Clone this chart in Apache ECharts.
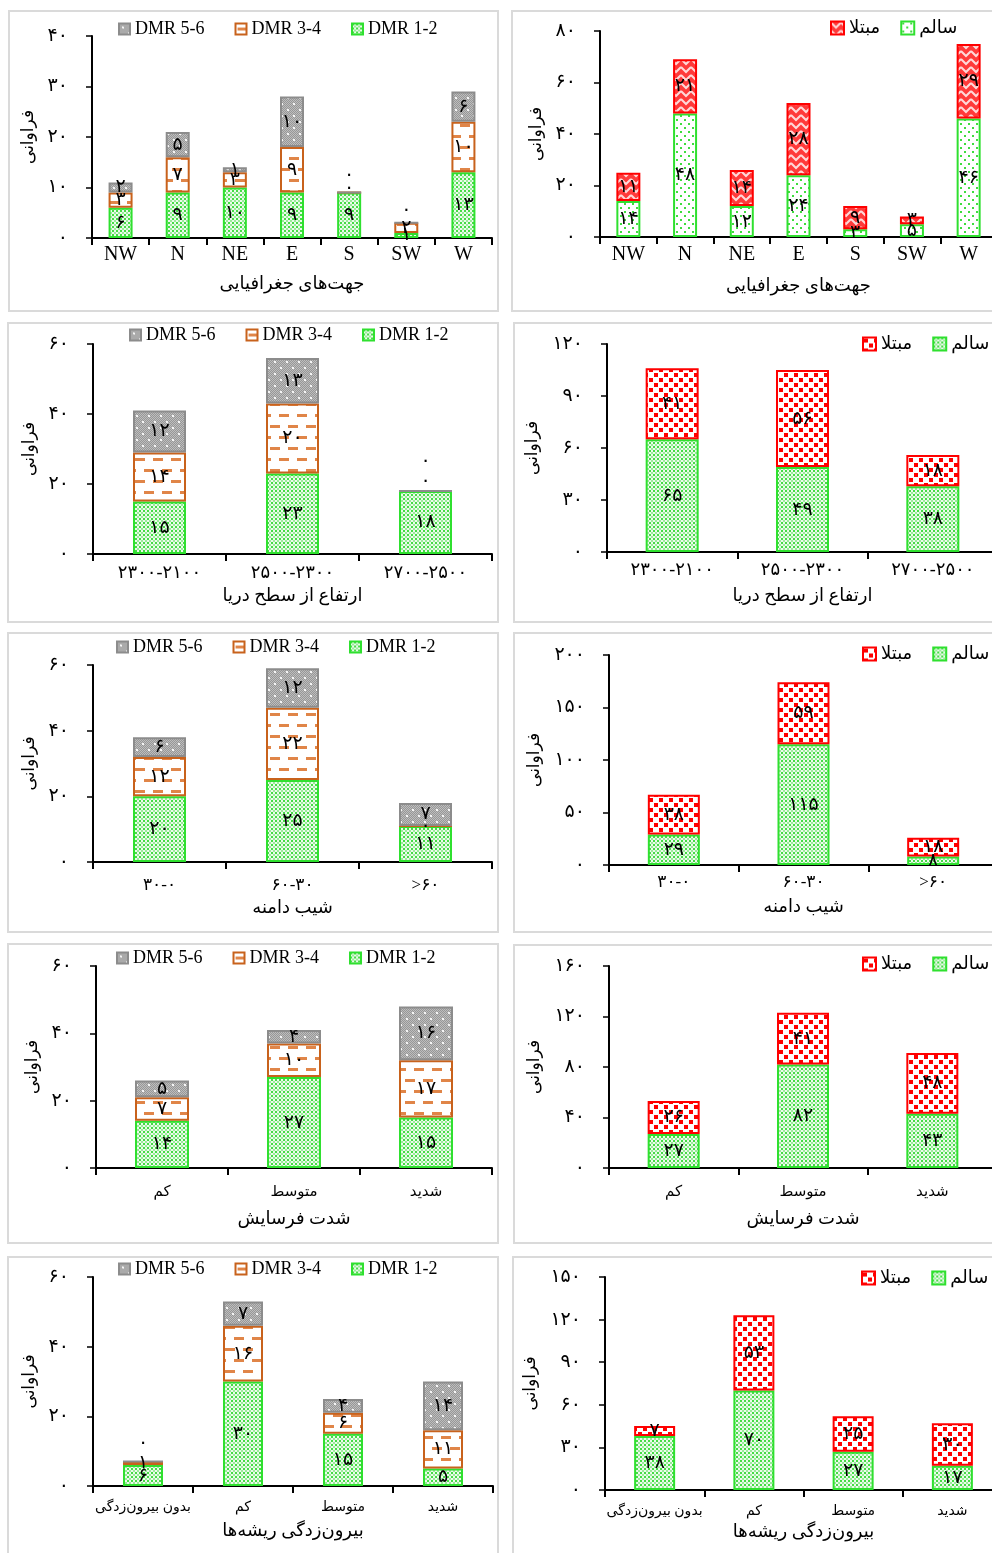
<!DOCTYPE html>
<html>
<head>
<meta charset="utf-8">
<script src="https://cdn.jsdelivr.net/npm/echarts@6/dist/echarts.min.js"></script>
<style>
html,body{margin:0;padding:0;background:#fff;overflow:hidden;width:992px;height:1553px;}
.panel{position:absolute;outline:2px solid #dadada;outline-offset:-2px;}
</style>
</head>
<body>
<div id="p1" class="panel"></div><div id="p2" class="panel"></div>
<div id="p3" class="panel"></div><div id="p4" class="panel"></div>
<div id="p5" class="panel"></div><div id="p6" class="panel"></div>
<div id="p7" class="panel"></div><div id="p8" class="panel"></div>
<div id="p9" class="panel"></div><div id="p10" class="panel"></div>
<script>
// ---------------- DATA ----------------
const dirCats = ['NW','N','NE','E','S','SW','W'];
const dirDmr12 = [6,9,10,9,9,1,13];
const dirDmr34 = [3,7,3,9,0,2,10];
const dirDmr56 = [2,5,1,10,0,0,6];
const dirHealthy = [14,48,12,24,3,5,46];
const dirInfected = [11,21,14,28,9,3,29];

const altCats = ['۲۳۰۰-۲۱۰۰','۲۵۰۰-۲۳۰۰','۲۷۰۰-۲۵۰۰'];
const altDmr12 = [15,23,18];
const altDmr34 = [14,20,0];
const altDmr56 = [12,13,0];
const altHealthy = [65,49,38];
const altInfected = [41,56,18];

const slopeCats = ['۳۰-۰','۶۰-۳۰','>۶۰'];
const slopeDmr12 = [20,25,11];
const slopeDmr34 = [12,22,0];
const slopeDmr56 = [6,12,7];
const slopeHealthy = [29,115,8];
const slopeInfected = [38,59,18];

const erosionCats = ['کم','متوسط','شدید'];
const erosionDmr12 = [14,27,15];
const erosionDmr34 = [7,10,17];
const erosionDmr56 = [5,4,16];
const erosionHealthy = [27,82,43];
const erosionInfected = [26,41,48];

const rootCats = ['بدون بیرون‌زدگی','کم','متوسط','شدید'];
const rootDmr12 = [6,30,15,5];
const rootDmr34 = [1,16,6,11];
const rootDmr56 = [0,7,4,14];
const rootHealthy = [38,70,27,17];
const rootInfected = [7,53,25,30];

const ticks40 = ['۰','۱۰','۲۰','۳۰','۴۰'];
const ticks80 = ['۰','۲۰','۴۰','۶۰','۸۰'];
const ticks60 = ['۰','۲۰','۴۰','۶۰'];
const ticks120 = ['۰','۳۰','۶۰','۹۰','۱۲۰'];
const ticks200 = ['۰','۵۰','۱۰۰','۱۵۰','۲۰۰'];
const ticks160 = ['۰','۴۰','۸۰','۱۲۰','۱۶۰'];
const ticks150 = ['۰','۳۰','۶۰','۹۰','۱۲۰','۱۵۰'];

const dmrNames = ['DMR 1-2','DMR 3-4','DMR 5-6'];
const healthNames = ['سالم','مبتلا'];
const yTitle = 'فراوانی';
const xTitleDir = 'جهت‌های جغرافیایی';
const xTitleAlt = 'ارتفاع از سطح دریا';
const xTitleSlope = 'شیب دامنه';
const xTitleErosion = 'شدت فرسایش';
const xTitleRoot = 'بیرون‌زدگی ریشه‌ها';

// ---------------- STYLE ----------------
const FONT = "'Liberation Serif', 'DejaVu Sans', serif";
function toFa(n){ return String(n).replace(/\d/g, d => '۰۱۲۳۴۵۶۷۸۹'[+d]); }
function tile(w,h,draw){ const c=document.createElement('canvas'); c.width=w; c.height=h; const g=c.getContext('2d'); draw(g,w,h); return c; }
const pat = {
  green: tile(4,4,(g)=>{ g.fillStyle='#eafbea'; g.fillRect(0,0,4,4); g.fillStyle='#45dc45'; g.fillRect(0,0,2,2); g.fillStyle='#9be99b'; g.fillRect(2,2,2,2); }),
  greenSparse: tile(8,8,(g)=>{ g.fillStyle='#fff'; g.fillRect(0,0,8,8); g.fillStyle='#3edc3e'; g.fillRect(1,1,2,2); g.fillRect(5,5,2,2); }),
  orange: tile(18,22,(g)=>{ g.fillStyle='#fff'; g.fillRect(0,0,18,22); g.fillStyle='#e08548'; g.fillRect(2,4,10,3); g.fillRect(11,15,10,3); g.fillRect(-7,15,10,3); }),
  gray: tile(12,12,(g)=>{ g.fillStyle='#bdbdbd'; g.fillRect(0,0,12,12); g.fillStyle='#979797'; for(let x=0;x<12;x++)for(let y=0;y<12;y++) if((x+y)%2===0) g.fillRect(x,y,1,1); g.fillStyle='#f4f4f4'; g.fillRect(3,3,2,2); g.fillRect(9,9,2,2); }),
  redZig: tile(10,8,(g)=>{ g.fillStyle='#ff3a3a'; g.fillRect(0,0,10,8); g.strokeStyle='#ffd8d8'; g.lineWidth=2; g.beginPath(); g.moveTo(0,1); g.lineTo(5,6); g.lineTo(10,1); g.stroke(); }),
  redSq: tile(10,10,(g)=>{ g.fillStyle='#fff'; g.fillRect(0,0,10,10); g.fillStyle='#ff0000'; g.fillRect(1,1,4,4); g.fillRect(6,6,4,4); })
};
function fill(c){ return {image:c, repeat:'repeat'}; }
const dmrStyles = [
  {color: fill(pat.green), borderColor:'#2fe02f', borderWidth:2},
  {color: fill(pat.orange), borderColor:'#c8621c', borderWidth:2},
  {color: fill(pat.gray), borderColor:'#8c8c8c', borderWidth:2}
];
const healthStylesZig = [
  {color: fill(pat.greenSparse), borderColor:'#2fe02f', borderWidth:2},
  {color: fill(pat.redZig), borderColor:'#ff0000', borderWidth:2}
];
const healthStylesSq = [
  {color: fill(pat.green), borderColor:'#2fe02f', borderWidth:2},
  {color: fill(pat.redSq), borderColor:'#ff0000', borderWidth:2}
];

// ---------------- PANELS ----------------
const panels = [
  {id:'p1', box:[8,10,491,302], grid:[84,26,400,202], cats:dirCats, values:[dirDmr12,dirDmr34,dirDmr56], names:dmrNames, styles:dmrStyles,
   ticks:ticks40, max:40, step:10, xTitle:xTitleDir, barWidth:24, legend:[110,10], legendGap:30, icon:11, yGap:43, xGap:37, xMargin:7, xSize:20,
   zero:{1:{4:-5}, 2:{4:-18,5:-13}}},
  {id:'p2', box:[511,10,490,302], grid:[89,21,397,206], cats:dirCats, values:[dirHealthy,dirInfected], names:healthNames, styles:healthStylesZig,
   ticks:ticks80, max:80, step:20, xTitle:xTitleDir, barWidth:24, legend:[319,9], legendGap:20, icon:13, yGap:48, xGap:40, xMargin:8, xSize:20, zero:{}},
  {id:'p3', box:[7,322,492,301], grid:[86,22,399,210], cats:altCats, values:[altDmr12,altDmr34,altDmr56], names:dmrNames, styles:dmrStyles,
   ticks:ticks60, max:60, step:20, xTitle:xTitleAlt, barWidth:53, legend:[122,4], legendGap:30, icon:11, yGap:44, xGap:33, xMargin:10, xSize:18,
   zero:{1:{2:-10}, 2:{2:-30}}},
  {id:'p4', box:[513,322,490,301], grid:[94,22,391,208], cats:altCats, values:[altHealthy,altInfected], names:healthNames, styles:healthStylesSq,
   ticks:ticks120, max:120, step:30, xTitle:xTitleAlt, barWidth:53, legend:[349,13], legendGap:20, icon:13, yGap:55, xGap:35, xMargin:9, xSize:18, zero:{}},
  {id:'p5', box:[7,632,492,301], grid:[86,33,399,197], cats:slopeCats, values:[slopeDmr12,slopeDmr34,slopeDmr56], names:dmrNames, styles:dmrStyles,
   ticks:ticks60, max:60, step:20, xTitle:xTitleSlope, barWidth:53, legend:[109,6], legendGap:30, icon:11, yGap:46, xGap:36, xMargin:15, xSize:17, zero:{}},
  {id:'p6', box:[513,632,490,301], grid:[96,23,389,210], cats:slopeCats, values:[slopeHealthy,slopeInfected], names:healthNames, styles:healthStylesSq,
   ticks:ticks200, max:200, step:50, xTitle:xTitleSlope, barWidth:52, legend:[349,13], legendGap:20, icon:13, yGap:55, xGap:33, xMargin:9, xSize:17, zero:{}},
  {id:'p7', box:[7,943,492,301], grid:[89,23,396,202], cats:erosionCats, values:[erosionDmr12,erosionDmr34,erosionDmr56], names:dmrNames, styles:dmrStyles,
   ticks:ticks60, max:60, step:20, xTitle:xTitleErosion, barWidth:54, legend:[109,6], legendGap:30, icon:11, yGap:44, xGap:42, xMargin:17, xSize:15, zero:{}},
  {id:'p8', box:[513,944,490,300], grid:[96,22,388,202], cats:erosionCats, values:[erosionHealthy,erosionInfected], names:healthNames, styles:healthStylesSq,
   ticks:ticks160, max:160, step:40, xTitle:xTitleErosion, barWidth:52, legend:[349,11], legendGap:20, icon:13, yGap:57, xGap:42, xMargin:17, xSize:15, zero:{}},
  {id:'p9', box:[7,1256,492,300], grid:[86,21,400,209], cats:rootCats, values:[rootDmr12,rootDmr34,rootDmr56], names:dmrNames, styles:dmrStyles,
   ticks:ticks60, max:60, step:20, xTitle:xTitleRoot, barWidth:40, legend:[111,4], legendGap:30, icon:11, yGap:41, xGap:36, xMargin:14, xSize:14,
   zero:{2:{0:-19}}},
  {id:'p10', box:[512,1256,490,300], grid:[93,21,397,213], cats:rootCats, values:[rootHealthy,rootInfected], names:healthNames, styles:healthStylesSq,
   ticks:ticks150, max:150, step:30, xTitle:xTitleRoot, barWidth:41, legend:[349,13], legendGap:20, icon:13, yGap:54, xGap:32, xMargin:14, xSize:14, zero:{}}
];

panels.forEach(p => {
  const el = document.getElementById(p.id);
  el.style.left = p.box[0]+'px'; el.style.top = p.box[1]+'px';
  el.style.width = p.box[2]+'px'; el.style.height = p.box[3]+'px';
  const chart = echarts.init(el, null, {renderer:'canvas'});
  const series = p.values.map((vals, si) => ({
    name: p.names[si],
    type: 'bar',
    stack: 'total',
    barWidth: p.barWidth,
    itemStyle: p.styles[si],
    label: {show:true, position:'inside', color:'#000', fontSize:19, fontFamily:FONT,
            formatter: (prm) => toFa(prm.value)},
    emphasis: {disabled:true},
    data: vals.map((v, ci) => {
      const off = p.zero[si] && p.zero[si][ci];
      return off !== undefined ? {value:v, label:{offset:[0, off]}} : v;
    })
  }));
  chart.setOption({
    animation: false,
    backgroundColor: 'transparent',
    grid: {left:p.grid[0], top:p.grid[1], width:p.grid[2], height:p.grid[3], outerBoundsMode:'none', containLabel:false},
    legend: {
      left: p.legend[0], top: p.legend[1], width: 400, padding: 0,
      orient: 'horizontal',
      data: p.names.slice().reverse(),
      icon: 'rect', itemWidth: p.icon, itemHeight: p.icon, itemGap: p.legendGap,
      textStyle: {color:'#000', fontSize:18, fontFamily:FONT},
      selectedMode: false
    },
    xAxis: {
      type: 'category', data: p.cats,
      axisLine: {show:true, lineStyle:{color:'#000', width:2}},
      axisTick: {show:true, alignWithLabel:false, interval:0, length:7, lineStyle:{color:'#000', width:2}},
      axisLabel: {interval:0, margin:p.xMargin, color:'#000', fontSize:p.xSize, fontFamily:FONT},
      name: p.xTitle, nameLocation:'middle', nameGap:p.xGap,
      nameTextStyle: {color:'#000', fontSize:18, fontFamily:FONT},
      splitLine: {show:false}
    },
    yAxis: {
      type: 'value', min:0, max:p.max, interval:p.step,
      axisLine: {show:true, lineStyle:{color:'#000', width:2}},
      axisTick: {show:true, inside:false, length:6, lineStyle:{color:'#000', width:1.5}},
      axisLabel: {margin:24, color:'#000', fontSize:19, fontFamily:FONT,
                  formatter: (v, i) => p.ticks[i]},
      splitLine: {show:false},
      name: yTitle, nameLocation:'middle', nameGap:p.yGap, nameRotate:90,
      nameTextStyle: {color:'#000', fontSize:17, fontFamily:FONT}
    },
    series: series
  });
});
</script>
</body>
</html>
